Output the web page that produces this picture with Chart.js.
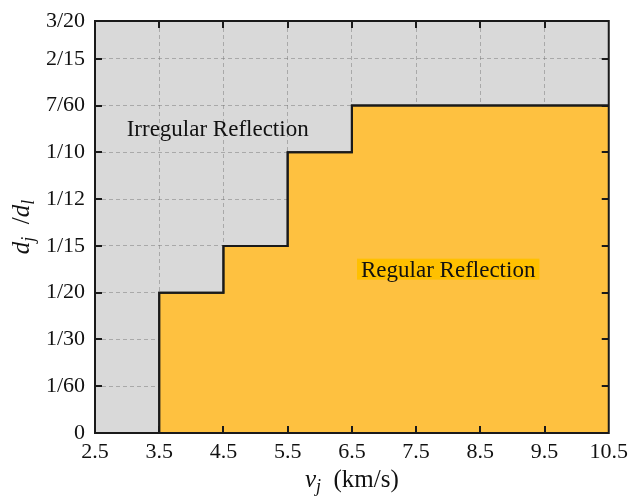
<!DOCTYPE html>
<html>
<head>
<meta charset="utf-8">
<script src="https://cdn.jsdelivr.net/npm/chart.js@4.4.1/dist/chart.umd.min.js"></script>
<style>
  html, body { margin: 0; padding: 0; background: #fff; }
</style>
</head>
<body>
<canvas id="chart" width="634" height="496"></canvas>
<script>
// boundary between regular and irregular reflection
const boundaryV = [3.5, 3.5, 4.5, 5.5, 6.5, 10.5];
const boundaryD = [0, 1/20, 1/15, 1/10, 7/60, 7/60];

const xTicks = [2.5, 3.5, 4.5, 5.5, 6.5, 7.5, 8.5, 9.5, 10.5];
const yTickValues = [0, 1/60, 1/30, 1/20, 1/15, 1/12, 1/10, 7/60, 2/15, 3/20];
const yTickLabels = ['0', '1/60', '1/30', '1/20', '1/15', '1/12', '1/10', '7/60', '2/15', '3/20'];
const yMax = 0.1468; // frame top sits just under 3/20 in the original

const regionNames = ['Irregular Reflection', 'Regular Reflection'];
const regionV = [4.41, 8.0];
const regionD = [0.1085, 0.0582];

const serif = "'Liberation Serif', 'Times New Roman', serif";
const gridColor = 'rgba(110,110,110,0.45)';

// gray plot background
const bgPlugin = {
  id: 'bg',
  beforeDraw(chart) {
    const { ctx, chartArea: a } = chart;
    ctx.save();
    ctx.fillStyle = '#d9d9d9';
    ctx.fillRect(a.left, a.top, a.right - a.left, a.bottom - a.top);
    ctx.restore();
  }
};

function drawRich(ctx, segs, x, y) {
  let w = 0;
  segs.forEach(s => { ctx.font = s.font; s.w = ctx.measureText(s.text).width; w += s.w; });
  let cx = x - w / 2;
  segs.forEach(s => {
    ctx.font = s.font;
    ctx.fillText(s.text, cx, y + (s.dy || 0));
    cx += s.w;
  });
}

const overlayPlugin = {
  id: 'overlay',
  afterDraw(chart) {
    const { ctx, chartArea: a, scales } = chart;
    const xs = scales.x, ys = scales.y;
    ctx.save();

    // inner tick marks on all four sides
    ctx.strokeStyle = '#1a1a1a';
    ctx.lineWidth = 2;
    const tl = 7;
    ctx.beginPath();
    xTicks.slice(1, -1).forEach(v => {
      const px = Math.round(xs.getPixelForValue(v));
      ctx.moveTo(px, a.bottom); ctx.lineTo(px, a.bottom - tl);
      ctx.moveTo(px, a.top); ctx.lineTo(px, a.top + tl);
    });
    yTickValues.slice(1, -1).forEach(v => {
      const py = Math.round(ys.getPixelForValue(v));
      ctx.moveTo(a.left, py); ctx.lineTo(a.left + tl, py);
      ctx.moveTo(a.right, py); ctx.lineTo(a.right - tl, py);
    });
    ctx.stroke();

    // step boundary redrawn above the grid
    const meta = chart.getDatasetMeta(0);
    ctx.save();
    ctx.beginPath();
    ctx.rect(a.left, a.top - 2, a.right - a.left, a.bottom - a.top + 4);
    ctx.clip();
    meta.dataset.draw(ctx, a);
    ctx.restore();

    // frame
    ctx.strokeStyle = '#1a1a1a';
    ctx.lineWidth = 2;
    ctx.strokeRect(a.left, a.top, a.right - a.left, a.bottom - a.top);

    // region labels
    ctx.font = '23px ' + serif;
    ctx.textAlign = 'center';
    ctx.textBaseline = 'middle';
    regionNames.forEach((name, i) => {
      const px = xs.getPixelForValue(regionV[i]);
      const py = ys.getPixelForValue(regionD[i]);
      if (i === 1) {
        const w = ctx.measureText(name).width;
        ctx.fillStyle = '#ffc000';
        ctx.fillRect(px - w / 2 - 4, py - 11, w + 8, 21);
      }
      ctx.fillStyle = '#111';
      ctx.fillText(name, px, py + 1);
    });

    // axis titles with subscripts
    ctx.textAlign = 'left';
    ctx.textBaseline = 'alphabetic';
    ctx.fillStyle = '#111';
    const big = 'italic 25px ' + serif;
    const sub = 'italic 18px ' + serif;
    const reg = '25px ' + serif;
    drawRich(ctx, [
      { text: 'v', font: big },
      { text: 'j', font: sub, dy: 5 },
      { text: '  (km/s)', font: reg }
    ], (a.left + a.right) / 2, 487);

    ctx.save();
    ctx.translate(29, (a.top + a.bottom) / 2);
    ctx.rotate(-Math.PI / 2);
    drawRich(ctx, [
      { text: 'd', font: big },
      { text: 'j', font: sub, dy: 5 },
      { text: '  /', font: reg },
      { text: 'd', font: big },
      { text: 'l', font: sub, dy: 5 }
    ], 0, 0);
    ctx.restore();

    ctx.restore();
  }
};

new Chart(document.getElementById('chart'), {
  type: 'line',
  data: {
    datasets: [{
      data: boundaryV.map((v, i) => ({ x: v, y: boundaryD[i] })),
      stepped: 'before',
      borderColor: '#1a1a1a',
      borderWidth: 2,
      backgroundColor: '#fec140',
      fill: 'origin',
      pointRadius: 0
    }]
  },
  options: {
    responsive: false,
    animation: false,
    layout: { padding: { top: 19, right: 23, left: 0, bottom: 0 } },
    plugins: { legend: { display: false }, tooltip: { enabled: false } },
    scales: {
      x: {
        type: 'linear',
        min: 2.5,
        max: 10.5,
        z: 1,
        afterBuildTicks: s => { s.ticks = xTicks.map(v => ({ value: v })); },
        afterFit: s => { s.height = 63; },
        grid: { color: gridColor, lineWidth: 1, drawTicks: false },
        border: { display: false, dash: [4, 3] },
        ticks: {
          padding: 6,
          color: '#111',
          font: { family: serif, size: 22 },
          callback: v => String(v)
        }
      },
      y: {
        type: 'linear',
        min: 0,
        max: yMax,
        z: 1,
        afterBuildTicks: s => { s.ticks = yTickValues.map(v => ({ value: Math.min(v, yMax) })); },
        afterFit: s => { s.width = 95; },
        grid: { color: gridColor, lineWidth: 1, drawTicks: false },
        border: { display: false, dash: [4, 3] },
        ticks: {
          padding: 10,
          color: '#111',
          font: { family: serif, size: 22, lineHeight: 1 },
          callback: (v, i) => yTickLabels[i]
        }
      }
    }
  },
  plugins: [bgPlugin, overlayPlugin]
});
</script>
</body>
</html>
